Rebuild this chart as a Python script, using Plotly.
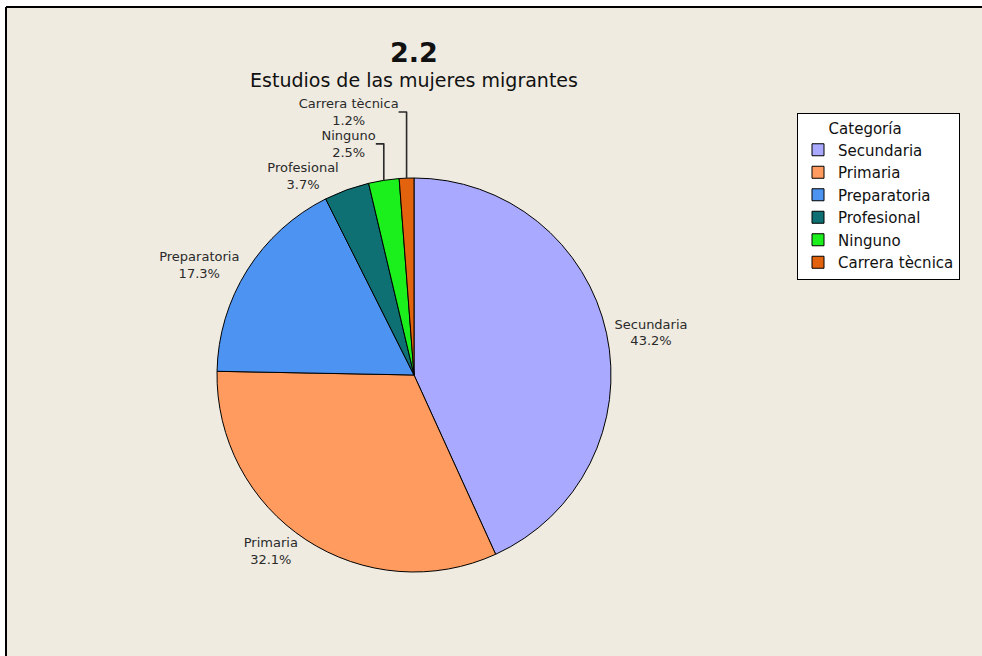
import plotly.graph_objects as go

categories = ["Secundaria", "Primaria", "Preparatoria", "Profesional", "Ninguno", "Carrera tècnica"]
percentages = [43.2, 32.1, 17.3, 3.7, 2.5, 1.2]
colors = ["#A9A9FF", "#FF9B5E", "#4C93F2", "#0E7073", "#1CF01C", "#E2620E"]

W, H = 982, 656
cx, cy, r = 414, 375, 197
BG = "#EFEBE1"

fig = go.Figure(go.Pie(
    labels=categories,
    values=percentages,
    sort=False,
    direction="clockwise",
    rotation=0,
    marker=dict(colors=colors, line=dict(color="black", width=1)),
    texttemplate="%{label}<br>%{value:.1f}%",
    textposition="outside",
    textfont=dict(family="DejaVu Sans", size=13, color="#2a2a2a"),
    domain=dict(x=[(cx - r) / W, (cx + r) / W], y=[1 - (cy + r) / H, 1 - (cy - r) / H]),
    hoverinfo="label+percent",
))

fig.update_layout(
    width=W, height=H,
    margin=dict(l=0, r=0, t=0, b=0),
    paper_bgcolor=BG,
    plot_bgcolor=BG,
    font=dict(family="DejaVu Sans", color="#111111"),
    title=dict(
        text="<b><span style='font-size:27px'>2.2</span></b><br><span style='font-size:19px'>Estudios de las mujeres migrantes</span>",
        x=cx / W, xanchor="center", y=1 - 62 / H, yanchor="top",
        font=dict(family="DejaVu Sans", size=19, color="#111111"),
    ),
    legend=dict(
        title=dict(text="\u00a0\u00a0\u00a0\u00a0\u00a0\u00a0Categoría", font=dict(size=15)),
        x=797 / W, y=1 - 113 / H, xanchor="left", yanchor="top",
        bgcolor="#FFFFFF", bordercolor="#000000", borderwidth=1,
        font=dict(family="DejaVu Sans", size=15, color="#111111"),
    ),
    shapes=[
        dict(type="rect", xref="paper", yref="paper", layer="below",
             x0=0, x1=6 / W, y0=0, y1=1, line=dict(width=0), fillcolor="#FFFFFF"),
        dict(type="rect", xref="paper", yref="paper", layer="below",
             x0=0, x1=1, y0=1 - 7 / H, y1=1, line=dict(width=0), fillcolor="#FFFFFF"),
        dict(type="line", xref="paper", yref="paper", layer="below",
             x0=6 / W, x1=6 / W, y0=0, y1=1 - 7 / H, line=dict(color="black", width=2)),
        dict(type="line", xref="paper", yref="paper", layer="below",
             x0=6 / W, x1=1, y0=1 - 7 / H, y1=1 - 7 / H, line=dict(color="black", width=2)),
    ],
)

fig.write_html("out.html", config={"displayModeBar": False},
               post_script="document.body.style.margin='0';document.body.style.overflow='hidden';")
